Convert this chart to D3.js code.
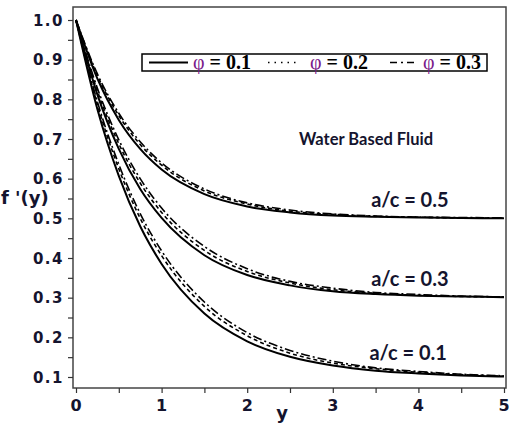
<!DOCTYPE html>
<html>
<head>
<meta charset="utf-8">
<script src="https://cdn.jsdelivr.net/npm/d3@7"></script>
<style>
  body { margin: 0; background: #fff; }
  svg { display: block; }
</style>
</head>
<body>
<svg id="chart" width="510" height="423"></svg>
<script>
const yPoints = [0, 0.25, 0.5, 0.75, 1, 1.5, 2, 2.5, 3, 3.5, 4, 4.5, 5];

// a/c = 0.5
const ac05_phi1 = [1, 0.852, 0.748, 0.675, 0.623, 0.561, 0.530, 0.515, 0.507, 0.504, 0.502, 0.501, 0.500];
const ac05_phi2 = [1, 0.860, 0.759, 0.686, 0.634, 0.569, 0.536, 0.518, 0.510, 0.505, 0.503, 0.501, 0.501];
const ac05_phi3 = [1, 0.864, 0.765, 0.693, 0.640, 0.574, 0.539, 0.521, 0.511, 0.506, 0.503, 0.502, 0.501];
// a/c = 0.3
const ac03_phi1 = [1, 0.812, 0.675, 0.574, 0.501, 0.407, 0.357, 0.331, 0.316, 0.309, 0.305, 0.303, 0.301];
const ac03_phi2 = [1, 0.821, 0.688, 0.589, 0.515, 0.419, 0.366, 0.337, 0.320, 0.311, 0.306, 0.303, 0.302];
const ac03_phi3 = [1, 0.828, 0.698, 0.600, 0.526, 0.429, 0.373, 0.341, 0.324, 0.313, 0.308, 0.304, 0.302];
// a/c = 0.1
const ac01_phi1 = [1, 0.775, 0.607, 0.480, 0.385, 0.260, 0.190, 0.151, 0.129, 0.116, 0.109, 0.104, 0.101];
const ac01_phi2 = [1, 0.787, 0.625, 0.500, 0.406, 0.278, 0.204, 0.160, 0.135, 0.121, 0.112, 0.106, 0.102];
const ac01_phi3 = [1, 0.794, 0.636, 0.512, 0.418, 0.289, 0.212, 0.167, 0.140, 0.123, 0.114, 0.107, 0.103];

const xTicks = [0, 1, 2, 3, 4, 5];
const yTicks = [0.1, 0.2, 0.3, 0.4, 0.5, 0.6, 0.7, 0.8, 0.9, 1.0];
const phiLabels = ['0.1', '0.2', '0.3'];
const caseLabels = [
  { text: 'a/c = 0.5', at: [3.9, 0.528] },
  { text: 'a/c = 0.3', at: [3.9, 0.33] },
  { text: 'a/c = 0.1', at: [3.88, 0.143] }
];

const dashes = [null, '4,3', '9,3,2,3'];

const svg = d3.select('#chart');
const textColor = '#14142e';

const x = d3.scaleLinear().domain([0, 5]).range([76, 504]);
const y = d3.scaleLinear().domain([0.1, 1.0]).range([377, 20]);
const frame = { left: 73, right: 506, top: 7, bottom: 388 };

svg.append('clipPath').attr('id', 'plotclip')
  .append('rect')
  .attr('x', frame.left).attr('y', frame.top)
  .attr('width', frame.right - frame.left).attr('height', frame.bottom - frame.top);

//frame
svg.append('rect')
  .attr('x', frame.left).attr('y', frame.top)
  .attr('width', frame.right - frame.left).attr('height', frame.bottom - frame.top)
  .attr('fill', 'none').attr('stroke', '#444').attr('stroke-width', 1.5);

//y axis
const yAxis = svg.append('g')
  .attr('transform', `translate(${frame.left},0)`)
  .call(d3.axisLeft(y).tickValues(d3.range(0.1, 1.0001, 0.05)).tickSize(5).tickFormat(''));
yAxis.select('.domain').remove();
yAxis.selectAll('.tick line').attr('stroke', '#333').attr('stroke-width', 1.2);

svg.append('g').selectAll('text')
  .data(yTicks)
  .join('text')
  .attr('x', 64).attr('y', d => y(d) + 5.5)
  .attr('text-anchor', 'end')
  .attr('font-family', 'DejaVu Sans').attr('font-weight', 'bold').attr('font-size', 15)
  .attr('letter-spacing', 1.5)
  .attr('fill', textColor)
  .text(d => d.toFixed(1));

//x axis
const xAxis = svg.append('g')
  .attr('transform', `translate(0,${frame.bottom})`)
  .call(d3.axisBottom(x).tickValues(d3.range(0, 5.0001, 0.5)).tickSize(5).tickFormat(''));
xAxis.select('.domain').remove();
xAxis.selectAll('.tick line').attr('stroke', '#333').attr('stroke-width', 1.2);

svg.append('g').selectAll('text')
  .data(xTicks)
  .join('text')
  .attr('x', d => x(d)).attr('y', 411)
  .attr('text-anchor', 'middle')
  .attr('font-family', 'DejaVu Sans').attr('font-weight', 'bold').attr('font-size', 16)
  .attr('fill', textColor)
  .text(d => d);

//axis titles
svg.append('text')
  .attr('x', 282).attr('y', 419)
  .attr('text-anchor', 'middle')
  .attr('font-family', 'DejaVu Sans').attr('font-weight', 'bold').attr('font-size', 18)
  .attr('fill', textColor)
  .text('y');
svg.append('text')
  .attr('x', 1).attr('y', 204)
  .attr('font-family', 'DejaVu Sans').attr('font-weight', 'bold').attr('font-size', 18)
  .attr('fill', textColor)
  .text("f '(y)");

//curves
const series = [
  [ac05_phi1, ac05_phi2, ac05_phi3],
  [ac03_phi1, ac03_phi2, ac03_phi3],
  [ac01_phi1, ac01_phi2, ac01_phi3]
];
const line = d3.line()
  .x((d, i) => x(yPoints[i]))
  .y(d => y(d))
  .curve(d3.curveMonotoneX);

const plot = svg.append('g').attr('clip-path', 'url(#plotclip)');
series.forEach(group => {
  group.forEach((vals, k) => {
    plot.append('path')
      .datum(vals)
      .attr('d', line)
      .attr('fill', 'none')
      .attr('stroke', '#000')
      .attr('stroke-width', k === 0 ? 2 : 1.6)
      .attr('stroke-dasharray', dashes[k]);
  });
});

//case labels
svg.append('g').selectAll('text')
  .data(caseLabels)
  .join('text')
  .attr('x', d => x(d.at[0])).attr('y', d => y(d.at[1]))
  .attr('text-anchor', 'middle')
  .attr('font-family', 'Lato').attr('font-weight', 'bold').attr('font-size', 20)
  .attr('fill', textColor)
  .text(d => d.text);

svg.append('text')
  .attr('x', 366).attr('y', 145)
  .attr('text-anchor', 'middle')
  .attr('font-family', 'Lato').attr('font-weight', 'bold').attr('font-size', 16.5)
  .attr('fill', textColor)
  .text('Water Based Fluid');

//legend
const legend = svg.append('g');
legend.append('rect')
  .attr('x', 142).attr('y', 54).attr('width', 345).attr('height', 17)
  .attr('fill', '#fff').attr('stroke', '#000').attr('stroke-width', 1.5);

const legendItems = [
  { x1: 149, x2: 188, tx: 193 },
  { x1: 268, x2: 300, tx: 310 },
  { x1: 390, x2: 416, tx: 423 }
];
legendItems.forEach((it, k) => {
  legend.append('line')
    .attr('x1', it.x1).attr('x2', it.x2).attr('y1', 62.5).attr('y2', 62.5)
    .attr('stroke', '#000')
    .attr('stroke-width', k === 0 ? 2 : 1.5)
    .attr('stroke-dasharray', k === 1 ? '1.5,5' : (k === 2 ? '7,4,2,4' : null));
  const t = legend.append('text')
    .attr('x', it.tx).attr('y', 68.5)
    .attr('font-family', 'Liberation Serif').attr('font-weight', 'bold').attr('font-size', 20);
  t.append('tspan').attr('fill', '#7a1a8a').attr('font-weight', 'normal').text('φ');
  t.append('tspan').attr('fill', '#000').text(' = ' + phiLabels[k]);
});
</script>
</body>
</html>
